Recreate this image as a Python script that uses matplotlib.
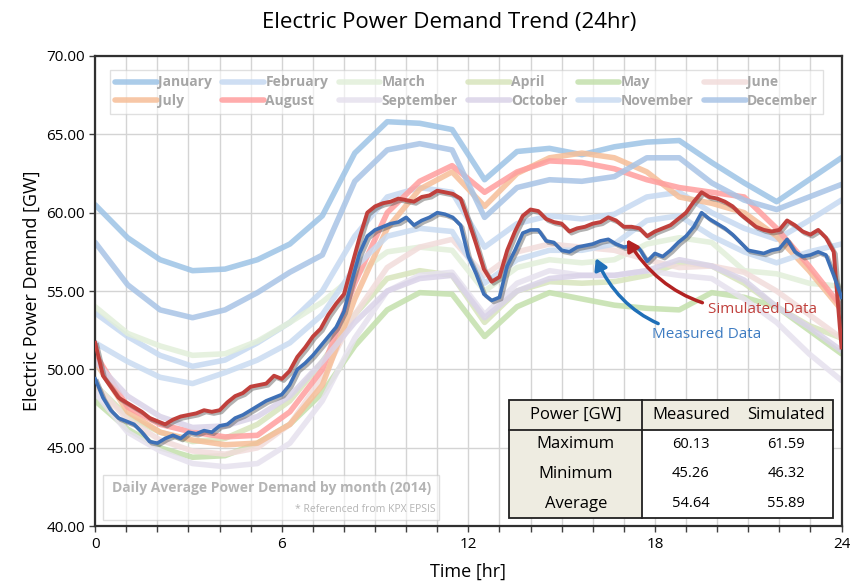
import matplotlib.pyplot as plt
import matplotlib.patheffects as pe
from matplotlib.patches import Rectangle
from matplotlib.lines import Line2D
from matplotlib.ticker import MultipleLocator, FuncFormatter
import numpy as np

plt.rcParams['font.family'] = ['Open Sans', 'DejaVu Sans']

# monthly hourly averages (24 values, hour 1..24 spread over 0..24)
months = ['January', 'February', 'March', 'April', 'May', 'June',
          'July', 'August', 'September', 'October', 'November', 'December']
jan = [60.5, 58.4, 57.0, 56.3, 56.4, 57.0, 58.0, 59.8, 63.8, 65.8, 65.7, 65.3,
       62.1, 63.9, 64.1, 63.7, 64.2, 64.5, 64.6, 63.2, 61.9, 60.7, 62.1, 63.5]
feb = [53.6, 52.1, 50.9, 50.2, 50.6, 51.7, 53.0, 55.0, 58.5, 61.0, 61.6, 61.3,
       57.8, 59.3, 59.8, 59.6, 59.9, 61.0, 61.3, 60.0, 59.0, 58.3, 59.5, 60.8]
mar = [54.0, 52.3, 51.5, 50.9, 51.0, 51.8, 53.0, 54.3, 56.0, 57.5, 57.8, 57.6,
       55.0, 56.5, 57.0, 56.8, 57.0, 58.0, 58.4, 58.1, 56.3, 56.1, 55.5, 55.3]
apr = [49.0, 47.0, 46.0, 45.4, 45.6, 46.5, 48.0, 50.5, 53.5, 55.8, 56.3, 56.0,
       53.0, 55.0, 55.6, 55.5, 55.6, 56.0, 56.8, 56.6, 55.5, 54.0, 52.8, 52.0]
may = [48.0, 46.2, 45.0, 44.4, 44.5, 45.3, 46.5, 48.5, 51.5, 53.8, 54.9, 54.8,
       52.1, 54.0, 54.9, 54.5, 54.1, 53.9, 53.8, 54.9, 54.6, 54.0, 52.5, 51.0]
jun = [49.0, 46.8, 45.5, 44.8, 44.6, 45.0, 46.5, 49.5, 53.5, 56.5, 57.8, 58.3,
       56.0, 57.5, 58.0, 57.8, 57.6, 57.0, 56.5, 56.6, 56.2, 55.0, 53.5, 52.0]
jul = [50.5, 47.3, 46.0, 45.5, 45.2, 45.3, 46.5, 49.0, 54.5, 59.0, 61.5, 62.6,
       60.4, 62.5, 63.5, 63.8, 63.5, 62.6, 61.0, 60.6, 60.0, 58.5, 56.3, 53.8]
aug = [51.0, 47.6, 46.5, 46.0, 45.7, 45.8, 47.3, 50.0, 55.5, 60.0, 62.0, 63.0,
       61.3, 62.6, 63.3, 63.2, 62.8, 62.1, 61.6, 61.3, 61.0, 59.0, 56.6, 54.0]
sep = [48.5, 46.0, 44.8, 44.0, 43.8, 44.0, 45.3, 48.0, 52.0, 55.0, 56.0, 56.2,
       53.5, 55.5, 56.3, 56.0, 56.0, 56.3, 56.0, 55.8, 54.5, 53.0, 51.0, 49.3]
oct_ = [50.5, 48.3, 47.0, 46.3, 46.4, 47.0, 48.3, 50.5, 53.0, 55.0, 55.8, 56.0,
        53.3, 55.0, 55.8, 56.0, 56.0, 56.3, 57.0, 56.6, 55.7, 54.0, 52.7, 51.2]
nov = [51.7, 50.5, 49.5, 49.1, 49.8, 50.6, 51.7, 53.5, 56.5, 58.5, 59.0, 58.8,
       55.5, 57.0, 57.6, 57.6, 58.0, 59.5, 59.8, 58.5, 57.5, 56.8, 57.5, 58.0]
dec = [58.1, 55.4, 53.8, 53.3, 53.8, 54.9, 56.2, 57.3, 62.0, 64.0, 64.4, 64.0,
       59.7, 61.6, 62.1, 62.0, 62.3, 63.5, 63.5, 61.9, 60.8, 60.2, 61.0, 61.8]
monthly = [jan, feb, mar, apr, may, jun, jul, aug, sep, oct_, nov, dec]
month_colors = ['#9DC3E6', '#C6D9F1', '#E2EFDA', '#D8E4BC', '#C4E0AC', '#F2DCDB',
                '#F6BE98', '#FF9E9E', '#E6E1EE', '#DAD3E8', '#C9DBF1', '#A8C4E6']

# 15-minute profile, 0..24 h
measured = [49.4,
            48.2, 47.4, 46.9, 46.7, 46.5, 46.0, 45.4, 45.3, 45.6, 45.8, 45.6, 46.0,
            45.9, 46.1, 46.0, 46.4, 46.5, 46.9, 47.1, 47.4, 47.7, 48.0, 48.2, 48.4,
            49.0, 50.0, 50.4, 50.9, 51.5, 52.1, 52.7, 53.7, 55.6, 57.4, 58.5, 58.9,
            59.1, 59.3, 59.4, 59.7, 59.2, 59.5, 59.7, 60.0, 59.9, 59.7, 59.2, 57.2,
            56.1, 54.8, 54.4, 54.6, 56.6, 57.6, 58.7, 58.9, 58.9, 58.2, 58.1, 57.6,
            57.5, 57.8, 57.9, 58.0, 58.2, 58.3, 58.0, 57.8, 57.9, 57.7, 56.9, 57.4,
            57.2, 57.6, 58.1, 58.5, 59.1, 60.0, 59.6, 59.3, 59.0, 58.6, 58.1, 57.6,
            57.5, 57.4, 57.6, 57.7, 58.3, 57.5, 57.2, 57.3, 57.5, 57.3, 56.0, 54.6]
simulated = [51.7,
             49.6, 48.9, 48.2, 47.9, 47.6, 47.3, 46.9, 46.7, 46.5, 46.8, 47.0, 47.1,
             47.2, 47.4, 47.3, 47.4, 47.9, 48.3, 48.5, 48.9, 49.0, 49.1, 49.6, 49.4,
             49.9, 50.8, 51.4, 52.1, 52.6, 53.5, 54.2, 54.8, 56.6, 58.4, 60.0, 60.4,
             60.6, 60.7, 60.9, 60.8, 60.7, 61.0, 61.1, 61.4, 61.3, 61.2, 60.9, 59.5,
             58.0, 56.4, 55.6, 55.9, 57.6, 58.8, 59.8, 60.2, 60.1, 59.6, 59.4, 59.3,
             58.8, 59.0, 59.1, 59.3, 59.4, 59.7, 59.5, 59.1, 59.1, 59.0, 58.5, 58.8,
             59.0, 59.2, 59.6, 60.0, 60.7, 61.3, 61.0, 60.9, 60.7, 60.4, 59.9, 59.5,
             59.1, 58.9, 58.8, 58.9, 59.5, 59.2, 58.8, 58.6, 58.9, 58.4, 57.5, 51.4]

row_names = ['Maximum', 'Minimum', 'Average']
meas_stats = ['60.13', '45.26', '54.64']
sim_stats = ['61.59', '46.32', '55.89']

hours_month = np.linspace(0, 24, 24)
hours_fine = np.linspace(0, 24, len(measured))

fig, ax = plt.subplots(figsize=(8.5, 5.88), dpi=100)
fig.subplots_adjust(left=0.112, right=0.99, bottom=0.105, top=0.905)

handles = []
for name, vals, c in zip(months, monthly, month_colors):
    h, = ax.plot(hours_month, vals, color=c, lw=4, alpha=0.85,
                 solid_capstyle='round', zorder=2, label=name)
    handles.append(h)

shadow = [pe.SimpleLineShadow(offset=(1.5, -1.5), shadow_color='#555555', alpha=0.45),
          pe.Normal()]
ax.plot(hours_fine, simulated, color='#C0403C', lw=2.8, zorder=4, path_effects=shadow)
ax.plot(hours_fine, measured, color='#3E70B6', lw=2.6, zorder=5, path_effects=shadow)

ax.set_xlim(0, 24)
ax.set_ylim(40, 70)
ax.xaxis.set_major_locator(MultipleLocator(1))
ax.xaxis.set_major_formatter(FuncFormatter(lambda v, p: f'{int(v)}' if v % 6 == 0 else ''))
ax.yaxis.set_major_locator(MultipleLocator(5))
ax.yaxis.set_major_formatter(FuncFormatter(lambda v, p: f'{v:.2f}'))
ax.tick_params(labelsize=11, length=4, width=1, color='#404040')
ax.grid(True, color='#D4D4D4', lw=1, zorder=0)
ax.set_axisbelow(True)
for s in ax.spines.values():
    s.set_color('#303030')
    s.set_linewidth(1.6)

fig.text(0.529, 0.962, 'Electric Power Demand Trend (24hr)', fontsize=16,
         ha='center', va='center')
ax.set_xlabel('Time [hr]', fontsize=13, labelpad=8)
ax.set_ylabel('Electric Power Demand [GW]', fontsize=13)

# legend, row-wise order
order = []
for i in range(6):
    order += [handles[i], handles[i + 6]]
leg = ax.legend(order, [h.get_label() for h in order], ncol=6, loc='upper left',
                bbox_to_anchor=(0.01, 0.985, 0.975, 0.0), mode='expand',
                fontsize=10, handlelength=3, handletextpad=0.1, columnspacing=0.5,
                fancybox=False, framealpha=0.6, edgecolor='#CCCCCC',
                borderpad=0.4, labelspacing=0.35)
for t in leg.get_texts():
    t.set_color('#A6A6A6')
    t.set_fontweight('bold')
leg.set_zorder(6)

# annotations
ax.annotate('Simulated Data', xy=(17.1, 58.3), xytext=(19.7, 53.8),
            color='#C0403C', fontsize=11, va='center', zorder=7,
            arrowprops=dict(arrowstyle='-|>,head_width=0.35,head_length=0.6',
                            color='#B22222', lw=2.5, connectionstyle='arc3,rad=-0.3',
                            shrinkA=2, shrinkB=0))
ax.annotate('Measured Data', xy=(16.1, 57.1), xytext=(17.9, 52.2),
            color='#3E7CC2', fontsize=11, va='center', zorder=7,
            arrowprops=dict(arrowstyle='-|>,head_width=0.35,head_length=0.6',
                            color='#1F6FB8', lw=2.5, connectionstyle='arc3,rad=-0.3',
                            shrinkA=2, shrinkB=0))

# source note box
ax.add_patch(Rectangle((0.011, 0.013), 0.45, 0.096, transform=ax.transAxes,
                       facecolor='white', alpha=0.6, edgecolor='#C8C8C8', lw=1, zorder=6))
ax.text(0.236, 0.082, 'Daily Average Power Demand by month (2014)', transform=ax.transAxes,
        ha='center', va='center', fontsize=10, fontweight='bold', color='#B4B4B4', zorder=7)
ax.text(0.456, 0.035, '* Referenced from KPX EPSIS', transform=ax.transAxes,
        ha='right', va='center', fontsize=7.5, color='#B4B4B4', zorder=7)

# statistics table
tx, ty, tw, th = 0.555, 0.017, 0.434, 0.251
col_w = [0.41, 0.30, 0.29]
cells = [[r, m, s] for r, m, s in zip(row_names, meas_stats, sim_stats)]
tab = ax.table(cellText=cells, colLabels=['Power [GW]', 'Measured', 'Simulated'],
               colWidths=col_w, cellLoc='center', bbox=[tx, ty, tw, th], zorder=8)
tab.auto_set_font_size(False)
for (r, c), cell in tab.get_celld().items():
    cell.set_linewidth(0)
    if r == 0 or c == 0:
        cell.set_facecolor('#EEECE1')
        cell.set_edgecolor('#EEECE1')
    else:
        cell.set_facecolor('white')
        cell.set_edgecolor('white')
    cell.get_text().set_fontsize(12 if (r == 0 or c == 0) else 10.5)

x_div = tx + tw * col_w[0] / sum(col_w)
y_div = ty + th * 3 / 4
line_kw = dict(transform=ax.transAxes, color='#202020', lw=1.3, zorder=9)
ax.add_patch(Rectangle((tx, ty), tw, th, transform=ax.transAxes, fill=False,
                       edgecolor='#202020', lw=1.3, zorder=9))
ax.add_line(Line2D([tx, tx + tw], [y_div, y_div], **line_kw))
ax.add_line(Line2D([x_div, x_div], [ty, ty + th], **line_kw))

fig.savefig('out.png', dpi=100)
